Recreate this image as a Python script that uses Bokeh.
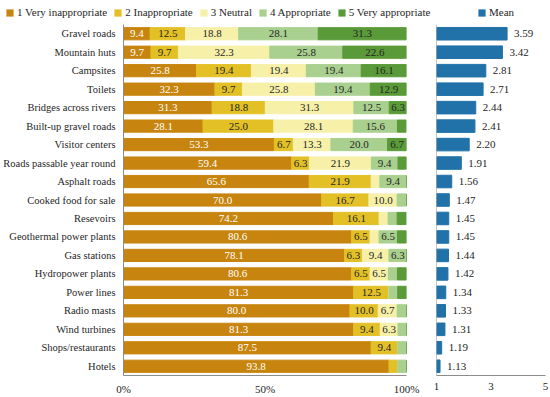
import numpy as np
from bokeh.plotting import figure
from bokeh.models import (ColumnDataSource, FactorRange, Range1d, FixedTicker,
                          Legend, LegendItem, Span)
from bokeh.layouts import column, row
from bokeh.core.properties import value
from bokeh.embed import file_html
from bokeh.resources import INLINE

FONT = "Times New Roman"
FS_LAB = "10.5px"
FS_VAL = "11px"

categories = ["Gravel roads", "Mountain huts", "Campsites", "Toilets",
              "Bridges across rivers", "Built-up gravel roads", "Visitor centers",
              "Roads passable year round", "Asphalt roads", "Cooked food for sale",
              "Resevoirs", "Geothermal power plants", "Gas stations",
              "Hydropower plants", "Power lines", "Radio masts", "Wind turbines",
              "Shops/restaurants", "Hotels"]

very_inappropriate = [9.4, 9.7, 25.8, 32.3, 31.3, 28.1, 53.3, 59.4, 65.6, 70.0,
                      74.2, 80.6, 78.1, 80.6, 81.3, 80.0, 81.3, 87.5, 93.8]
inappropriate = [12.5, 9.7, 19.4, 9.7, 18.8, 25.0, 6.7, 6.3, 21.9, 16.7,
                 16.1, 6.5, 6.3, 6.5, 12.5, 10.0, 9.4, 9.4, 3.1]
neutral = [18.8, 32.3, 19.4, 25.8, 31.3, 28.1, 13.3, 21.9, 3.1, 10.0,
           3.2, 3.2, 9.4, 6.5, 0.0, 6.7, 6.3, 0.0, 0.0]
appropriate = [28.1, 25.8, 19.4, 19.4, 12.5, 15.6, 20.0, 9.4, 9.4, 3.3,
               3.2, 6.5, 6.3, 3.2, 3.1, 3.3, 3.1, 3.1, 3.1]
very_appropriate = [31.3, 22.6, 16.1, 12.9, 6.3, 3.1, 6.7, 3.1, 0.0, 0.0,
                    3.2, 3.2, 0.0, 3.2, 3.1, 0.0, 0.0, 0.0, 0.0]
means = [3.59, 3.42, 2.81, 2.71, 2.44, 2.41, 2.20, 1.91, 1.56, 1.47,
         1.45, 1.45, 1.44, 1.42, 1.34, 1.33, 1.31, 1.19, 1.13]

series_names = ["1 Very inappropriate", "2 Inappropriate", "3 Neutral",
                "4 Appropriate", "5 Very appropriate"]
colors = ["#C7850F", "#E2C026", "#F6F0A8", "#A9D08E", "#5A9A38"]
text_colors = ["white", "#262626", "#262626", "#262626", "#262626"]
MEAN_COLOR = "#2172A8"
AXIS_COLOR = "#8C8C8C"

keys = ["s1", "s2", "s3", "s4", "s5"]
series = [very_inappropriate, inappropriate, neutral, appropriate, very_appropriate]
data = {"cat": categories}
for k, s in zip(keys, series):
    data[k] = s
src = ColumnDataSource(data)

yr = FactorRange(*categories[::-1])

# ---------- legend strip ----------
lf = figure(width=550, height=22, x_range=Range1d(0, 1), y_range=Range1d(0, 1),
            toolbar_location=None, output_backend="svg", min_border=0)
lf.axis.visible = False
lf.grid.visible = False
lf.outline_line_color = None
nan = [np.nan]
items = []
for name, c in zip(series_names, colors):
    r = lf.quad(left=nan, right=nan, top=nan, bottom=nan, fill_color=c, line_color=None)
    items.append(LegendItem(label=name, renderers=[r]))
rm = lf.quad(left=nan, right=nan, top=nan, bottom=nan, fill_color=MEAN_COLOR, line_color=None)

def mk_legend(its, loc):
    return Legend(items=its, orientation="horizontal", location=loc,
                  border_line_color=None, background_fill_alpha=0,
                  label_text_font=FONT, label_text_font_size="11px",
                  label_text_color="#262626", glyph_width=9, glyph_height=9,
                  label_standoff=3, spacing=6, padding=0, margin=0,
                  label_height=12)

lf.add_layout(mk_legend(items, (5, 4)))
lf.add_layout(mk_legend([LegendItem(label="Mean", renderers=[rm])], (477, 4)))

# ---------- stacked chart ----------
p1 = figure(width=420, height=375, y_range=yr, x_range=Range1d(0, 100),
            toolbar_location=None, output_backend="svg",
            min_border_left=123, min_border_right=14, min_border_top=2,
            min_border_bottom=18)
p1.hbar_stack(stackers=keys, y="cat", height=0.66, color=colors, source=src)

xs, ys, labs, tcs = [], [], [], []
arr = np.array(series)
cum = np.cumsum(arr, axis=0)
for i in range(arr.shape[0]):
    for j, cat in enumerate(categories):
        v = arr[i, j]
        if v >= 5:
            xs.append(cum[i, j] - v / 2)
            ys.append(cat)
            labs.append(f"{v:.1f}")
            tcs.append(text_colors[i])
lsrc = ColumnDataSource(dict(x=xs, y=ys, t=labs, c=tcs))
p1.text(x="x", y="y", text="t", text_color="c", source=lsrc,
        text_align="center", text_baseline="middle",
        text_font=value(FONT), text_font_size=FS_VAL)

p1.xaxis.ticker = FixedTicker(ticks=[0, 50, 100])
p1.xaxis.major_label_overrides = {0: "0%", 50: "50%", 100: "100%"}

# ---------- mean chart ----------
p2 = figure(width=130, height=375, y_range=yr, x_range=Range1d(1, 5),
            toolbar_location=None, output_backend="svg",
            min_border_left=16, min_border_right=5, min_border_top=2,
            min_border_bottom=18)
msrc = ColumnDataSource(dict(cat=categories, m=means,
                             t=[f"{m:.2f}" for m in means]))
p2.hbar(y="cat", left=1, right="m", height=0.68, color=MEAN_COLOR, source=msrc)
p2.text(x="m", y="cat", text="t", source=msrc, x_offset=7,
        text_align="left", text_baseline="middle", text_color="#262626",
        text_font=value(FONT), text_font_size=FS_VAL)
p2.xaxis.ticker = FixedTicker(ticks=[1, 3, 5])
p2.yaxis.visible = False
p2.add_layout(Span(location=1, dimension="height", line_color=AXIS_COLOR, line_width=1))

for p in (p1, p2):
    p.grid.visible = False
    p.outline_line_color = None
    for ax in p.axis:
        ax.axis_line_color = AXIS_COLOR
        ax.major_tick_line_color = None
        ax.minor_tick_line_color = None
        ax.major_tick_out = 0
        ax.major_tick_in = 0
        ax.major_label_text_font = FONT
        ax.major_label_text_color = "#262626"
        ax.major_label_text_font_size = FS_VAL
    p.xaxis.major_label_standoff = 7
p1.yaxis.major_label_text_font_size = FS_LAB
p1.yaxis.major_label_standoff = 8

layout = column(lf, row(p1, p2))
open("out.html", "w").write(file_html(layout, INLINE))
